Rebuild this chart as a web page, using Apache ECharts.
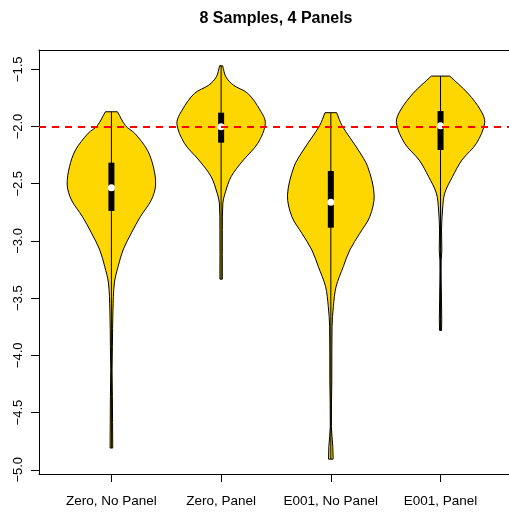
<!DOCTYPE html>
<html>
<head>
<meta charset="utf-8">
<script src="https://cdn.jsdelivr.net/npm/echarts@6/dist/echarts.min.js"></script>
<style>
  html, body { margin: 0; padding: 0; background: #ffffff; }
  #chart { width: 509px; height: 516px; }
</style>
</head>
<body>
<div id="chart"></div>
<script>
// Groups along the x axis
const categories = ['Zero, No Panel', 'Zero, Panel', 'E001, No Panel', 'E001, Panel'];
// y-axis tick positions
const yTicks = [-5.0, -4.5, -4.0, -3.5, -3.0, -2.5, -2.0, -1.5];
// Reference level (dashed line)
const referenceLevel = -2.0;

// Density outlines: [value, half-width in x-axis units], from top to bottom
const densityZeroNoPanel = [
  [-1.871, 0.055], [-1.993, 0.129], [-2.059, 0.212], [-2.205, 0.327], [-2.351, 0.382],
  [-2.511, 0.403], [-2.642, 0.364], [-2.788, 0.264], [-2.930, 0.182], [-3.079, 0.106],
  [-3.224, 0.061], [-3.367, 0.027], [-3.603, 0.014], [-3.923, 0.009], [-4.127, 0.006],
  [-4.360, 0.009], [-4.810, 0.012]
];
const densityZeroPanel = [
  [-1.469, 0.014], [-1.565, 0.043], [-1.638, 0.112], [-1.710, 0.243], [-1.856, 0.355],
  [-1.972, 0.403], [-2.147, 0.334], [-2.293, 0.203], [-2.438, 0.091], [-2.583, 0.036],
  [-2.668, 0.016], [-2.900, 0.011], [-3.334, 0.011]
];
const densityE001NoPanel = [
  [-1.879, 0.053], [-1.993, 0.103], [-2.205, 0.250], [-2.351, 0.336], [-2.600, 0.395],
  [-2.788, 0.355], [-2.933, 0.264], [-3.079, 0.173], [-3.224, 0.114],
  [-3.399, 0.048], [-3.574, 0.023], [-3.749, 0.011], [-4.214, 0.009], [-4.622, 0.005],
  [-4.797, 0.018], [-4.907, 0.021]
];
const densityE001Panel = [
  [-1.559, 0.084], [-1.710, 0.250], [-1.856, 0.364], [-1.965, 0.403],
  [-2.147, 0.327], [-2.293, 0.195], [-2.438, 0.109], [-2.583, 0.038], [-2.729, 0.018],
  [-2.904, 0.009], [-3.079, 0.012], [-3.166, 0.006], [-3.341, 0.006], [-3.690, 0.011],
  [-3.783, 0.009]
];
const densities = [densityZeroNoPanel, densityZeroPanel, densityE001NoPanel, densityE001Panel];

// Box summaries per group
const lowValues  = [-4.810, -3.334, -4.907, -3.783];
const q1Values   = [-2.738, -2.141, -2.884, -2.205];
const medians    = [-2.535, -2.002, -2.662, -1.993];
const q3Values   = [-2.316, -1.879, -2.389, -1.865];
const highValues = [-1.871, -1.469, -1.879, -1.559];

const FONT = '"Liberation Sans", Arial, Helvetica, sans-serif';
const catPositions = categories.map((_, i) => i + 1);

// The plot frame runs past the right edge of the page, so the visible
// x range stops short of the padded group range (0.34 .. 4.66).
const X_MIN = 0.34;
const X_MAX = 4.624;

const chart = echarts.init(document.getElementById('chart'), null, { renderer: 'canvas' });

// Outline of one violin; the end points are repeated so the bezier smoothing
// keeps the flat top/bottom cuts square instead of rounding them.
function violinItem(params, api) {
  const idx = api.value(0);
  const center = idx + 1;
  const prof = densities[idx];
  const right = prof.map(p => api.coord([center + p[1], p[0]]));
  const left = prof.slice().reverse().map(p => api.coord([center - p[1], p[0]]));
  const pts = [right[0]].concat(right, [right[right.length - 1]],
                                [left[0]], left, [left[left.length - 1]]);
  return {
    type: 'polygon',
    shape: { points: pts, smooth: 0.33 },
    style: { fill: '#FFD700', stroke: '#000000', lineWidth: 1 }
  };
}

function boxItem(params, api) {
  const idx = api.value(0);
  const center = idx + 1;
  const top = api.coord([center, highValues[idx]]);
  const bottom = api.coord([center, lowValues[idx]]);
  const b3 = api.coord([center, q3Values[idx]]);
  const b1 = api.coord([center, q1Values[idx]]);
  const m = api.coord([center, medians[idx]]);
  const halfBox = 3;
  return {
    type: 'group',
    children: [
      { type: 'line', shape: { x1: top[0], y1: top[1], x2: bottom[0], y2: bottom[1] },
        style: { stroke: '#000000', lineWidth: 1 } },
      { type: 'rect', shape: { x: b3[0] - halfBox, y: b3[1], width: halfBox * 2, height: b1[1] - b3[1] },
        style: { fill: '#000000' } },
      { type: 'circle', shape: { cx: m[0], cy: m[1], r: 3.5 },
        style: { fill: '#ffffff' } }
    ]
  };
}

const option = {
  animation: false,
  backgroundColor: '#ffffff',
  title: {
    text: '8 Samples, 4 Panels',
    left: 271, top: 6, textAlign: 'center',
    textStyle: { fontFamily: FONT, fontWeight: 'bold', fontSize: 16, color: '#000' }
  },
  grid: { left: 39, top: 50, width: 470, height: 424 },
  xAxis: [
    {
      type: 'value', min: X_MIN, max: X_MAX, position: 'bottom',
      axisLine: { show: true, onZero: false, lineStyle: { color: '#000', width: 1 } },
      splitLine: { show: false },
      axisTick: { show: true, customValues: catPositions, length: 8, lineStyle: { color: '#000' } },
      axisLabel: {
        customValues: catPositions, margin: 20,
        formatter: v => categories[Math.round(v) - 1],
        fontFamily: FONT, fontSize: 13.5, color: '#000'
      }
    },
    {
      // top edge of the plot frame
      type: 'value', min: X_MIN, max: X_MAX, position: 'top',
      axisLine: { show: true, onZero: false, lineStyle: { color: '#000', width: 1 } },
      splitLine: { show: false }, axisTick: { show: false }, axisLabel: { show: false }
    }
  ],
  yAxis: {
    type: 'value', min: -5.037, max: -1.331,
    axisLine: { show: true, onZero: false, lineStyle: { color: '#000', width: 1 } },
    splitLine: { show: false },
    axisTick: { show: true, customValues: yTicks, length: 8, lineStyle: { color: '#000' } },
    axisLabel: {
      customValues: yTicks, rotate: 90, margin: 14,
      formatter: v => v.toFixed(1).replace('-', '\u2212'),
      fontFamily: FONT, fontSize: 13, color: '#000'
    }
  },
  series: [
    {
      type: 'custom', z: 2,
      renderItem: violinItem,
      data: categories.map((_, i) => [i])
    },
    {
      type: 'line', z: 3, data: [], symbol: 'none',
      markLine: {
        silent: true, symbol: 'none', label: { show: false },
        lineStyle: { color: '#FF0000', type: [7, 6], width: 2 },
        data: [{ yAxis: referenceLevel }]
      }
    },
    {
      type: 'custom', z: 4,
      renderItem: boxItem,
      data: categories.map((_, i) => [i])
    }
  ]
};

chart.setOption(option);
</script>
</body>
</html>
